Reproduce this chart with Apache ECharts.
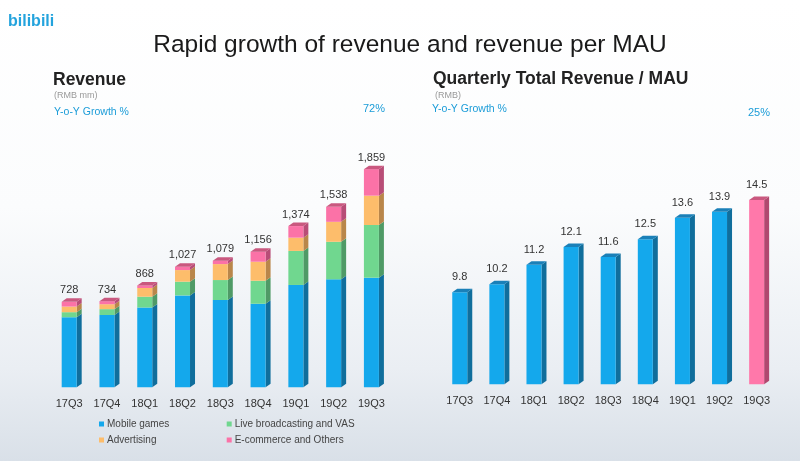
<!DOCTYPE html>
<html>
<head>
<meta charset="utf-8">
<script src="https://cdn.jsdelivr.net/npm/echarts@6/dist/echarts.min.js"></script>
<style>html,body{margin:0;padding:0;}#c{width:800px;height:461px;}</style>
</head>
<body>
<div id="c"></div>
<script>
const categories = ['17Q3','17Q4','18Q1','18Q2','18Q3','18Q4','19Q1','19Q2','19Q3'];
const mobileGames = [597,616,680,783,744,712,872,920,934];
const liveVAS = [43,50,92,117,170,196,290,320,449];
const advertising = [48,42,74,99,136,162,113,170,250];
const ecommerce = [40,26,22,28,29,86,99,128,226];
const totalRevenue = [728,734,868,1027,1079,1156,1374,1538,1859];
const revenuePerMAU = [9.8,10.2,11.2,12.1,11.6,12.5,13.6,13.9,14.5];
const growthRevenue = '72%';
const growthMAU = '25%';

const MAU_MIN = 5.1, MAU_MAX = 17.1;

const layers = [
  {name:'Mobile games', values: mobileGames, front:'#14a8ec', side:'#106e9c', top:'#1a80b8'},
  {name:'Live broadcasting and VAS', values: liveVAS, front:'#70d78f', side:'#4f9a66', top:'#4f9a66'},
  {name:'Advertising', values: advertising, front:'#fdbd6b', side:'#b9864a', top:'#b9864a'},
  {name:'E-commerce and Others', values: ecommerce, front:'#fb72a7', side:'#b84d77', top:'#c9587f'}
];

function fmt(n){ return String(n).replace(/\B(?=(\d{3})+(?!\d))/g, ','); }

const W = 15, D = 5, DY = 3.5;

function stackRender(layer, isTop){
  return function(params, api){
    const i = api.value(0), base = api.value(1), top = api.value(2);
    const pb = api.coord([i, base]);
    const pt = api.coord([i, top]);
    const cx = pb[0];
    const L = cx - W/2, R = cx + W/2;
    const children = [
      {type:'polygon', shape:{points:[[R,pt[1]],[R+D,pt[1]-DY],[R+D,pb[1]-DY],[R,pb[1]]]}, style:{fill:layer.side}},
      {type:'rect', shape:{x:L, y:pt[1], width:W, height:pb[1]-pt[1]}, style:{fill:layer.front}}
    ];
    if (isTop){
      children.push({type:'polygon', shape:{points:[[L,pt[1]],[R,pt[1]],[R+D,pt[1]-DY],[L+D,pt[1]-DY]]}, style:{fill:layer.top}});
      children.push({type:'text', x:cx, y:pt[1]-11.5, style:{text:fmt(totalRevenue[i]), textAlign:'center', textVerticalAlign:'middle', font:'11px "Liberation Sans", Arial', fill:'#333'}});
    }
    return {type:'group', children};
  };
}

const series = [];
const cum = categories.map(()=>0);
layers.forEach((layer, li) => {
  const data = categories.map((c, i) => {
    const b = cum[i]; cum[i] += layer.values[i];
    return [i, b, cum[i]];
  });
  series.push({
    type:'custom', name:layer.name, xAxisIndex:0, yAxisIndex:0,
    itemStyle:{color:layer.front},
    encode:{x:0, y:[1,2]},
    renderItem: stackRender(layer, li === layers.length-1),
    data
  });
});

series.push({
  type:'custom', name:'Revenue per MAU', xAxisIndex:1, yAxisIndex:1,
  encode:{x:0, y:1},
  renderItem: function(params, api){
    const i = api.value(0), v = api.value(1);
    const pb = api.coord([i, MAU_MIN]);
    const pt = api.coord([i, v]);
    const cx = pb[0];
    const L = cx - W/2, R = cx + W/2;
    const last = i === categories.length-1;
    const front = last ? '#ff78aa' : '#14a8ec';
    const side = last ? '#b0486f' : '#106e9c';
    const topc = last ? '#c9587f' : '#1a80b8';
    return {type:'group', children:[
      {type:'polygon', shape:{points:[[R,pt[1]],[R+D,pt[1]-DY],[R+D,pb[1]-DY],[R,pb[1]]]}, style:{fill:side}},
      {type:'rect', shape:{x:L, y:pt[1], width:W, height:pb[1]-pt[1]}, style:{fill:front}},
      {type:'polygon', shape:{points:[[L,pt[1]],[R,pt[1]],[R+D,pt[1]-DY],[L+D,pt[1]-DY]]}, style:{fill:topc}},
      {type:'text', x:cx, y:pt[1]-15, style:{text:v.toFixed(1), textAlign:'center', textVerticalAlign:'middle', font:'11px "Liberation Sans", Arial', fill:'#333'}}
    ]};
  },
  data: revenuePerMAU.map((v,i)=>[i, v])
});

function legendAt(name, left, top){
  return {data:[name], left, top, padding:0, itemWidth:5, itemHeight:5, itemGap:0, icon:'rect',
    textStyle:{fontSize:10, color:'#444', fontFamily:'Liberation Sans', padding:[0,0,0,-2]}, selectedMode:false};
}

const font = '"Liberation Sans", Arial, sans-serif';
function txt(text, x, y, size, color, weight, align){
  return {type:'text', x, y, silent:true, style:{text, font:(weight||'normal')+' '+size+'px '+font, fill:color, textAlign:align||'left', textVerticalAlign:'middle'}};
}

const chart = echarts.init(document.getElementById('c'), null, {renderer:'canvas'});
chart.setOption({
  animation:false,
  backgroundColor:{type:'linear', x:0, y:0, x2:0, y2:1, colorStops:[
    {offset:0, color:'#ffffff'}, {offset:0.45, color:'#fbfcfd'}, {offset:0.8, color:'#eaeef3'}, {offset:1, color:'#d9e0e8'}]},
  grid:[
    {left:50.3, width:340, top:152.6, bottom:73.7},
    {left:441.2, width:334, top:149.1, bottom:76.7}
  ],
  xAxis:[
    {type:'category', gridIndex:0, data:categories, axisLine:{show:false}, axisTick:{show:false},
      axisLabel:{margin:11, fontSize:11, color:'#333', fontFamily:'Liberation Sans'}},
    {type:'category', gridIndex:1, data:categories, axisLine:{show:false}, axisTick:{show:false},
      axisLabel:{margin:11, fontSize:11, color:'#333', fontFamily:'Liberation Sans'}}
  ],
  yAxis:[
    {type:'value', gridIndex:0, min:0, max:2000, show:false},
    {type:'value', gridIndex:1, min:MAU_MIN, max:MAU_MAX, show:false}
  ],
  legend:[
    legendAt('Mobile games', 99, 419),
    legendAt('Live broadcasting and VAS', 226.7, 419),
    legendAt('Advertising', 99, 435),
    legendAt('E-commerce and Others', 226.7, 435)
  ],
  graphic:[
    txt('bilibili', 8, 22, 16, '#23a3dd', 'bold'),
    txt('Rapid growth of revenue and revenue per MAU', 410, 45, 24.5, '#1a1a1a', 'normal', 'center'),
    txt('Revenue', 53, 80, 17.5, '#222', 'bold'),
    txt('(RMB mm)', 54, 96, 9, '#999'),
    txt('Y-o-Y Growth %', 54, 112, 10.5, '#1b9cd8'),
    txt(growthRevenue, 363, 109, 11, '#1b9cd8'),
    txt('Quarterly Total Revenue / MAU', 433, 79, 17.5, '#222', 'bold'),
    txt('(RMB)', 435, 96, 9, '#999'),
    txt('Y-o-Y Growth %', 432, 109.5, 10.5, '#1b9cd8'),
    txt(growthMAU, 748, 113, 11, '#1b9cd8')
  ],
  series
});
</script>
</body>
</html>
